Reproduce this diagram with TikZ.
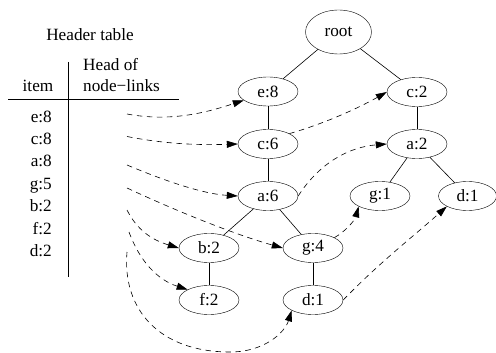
\documentclass[tikz,border=0pt]{standalone}
\usepackage{fontspec}
\setmainfont{Liberation Serif}
\usetikzlibrary{shapes.geometric,arrows.meta}
\begin{document}
\begin{tikzpicture}[x=1pt,y=-1pt,
  every node/.style={font=\fontsize{17.2}{19}\selectfont},
  tnode/.style={draw,ellipse,inner sep=0pt,minimum width=60pt,minimum height=29pt},
  tedge/.style={draw,line width=0.6pt},
  link/.style={draw,line width=0.6pt,dash pattern=on 5.5pt off 4.5pt,-{Triangle[length=11pt,width=7pt]}},
  lbl/.style={anchor=base,inner sep=0pt},
  itm/.style={anchor=base east,inner sep=0pt}]
\useasboundingbox (0,0) rectangle (496,353);
% header table
\node[lbl] (ht) at (90,41) {Header table};
\node[lbl,anchor=base west] (hd1) at (83,71) {Head of};
\node[lbl,anchor=base west] (hd2) at (83,92) {node−links};
\node[lbl] (hit) at (38,92) {item};
\draw[line width=0.6pt] (68,62) -- (68,277);
\draw[line width=0.6pt] (8,99) -- (179,99);
\node[itm] (ie) at (52,122.5) {e:8};
\node[itm] (ic) at (52,144.8) {c:8};
\node[itm] (ia) at (52,167) {a:8};
\node[itm] (ig) at (52,189.5) {g:5};
\node[itm] (ib) at (52,211.8) {b:2};
\node[itm] (if) at (52,234) {f:2};
\node[itm] (id) at (52,256.3) {d:2};
% tree
\node[draw,ellipse,inner sep=0pt,minimum width=66pt,minimum height=44pt] (root) at (338.5,32) {root};
\node[tnode] (e8) at (268,91.5) {e:8};
\node[tnode] (c2) at (417,92) {c:2};
\node[tnode] (c6) at (268,144) {c:6};
\node[tnode] (a2) at (417,144) {a:2};
\node[tnode] (a6) at (268,196) {a:6};
\node[tnode] (g1) at (380,196) {g:1};
\node[tnode,minimum width=58pt] (d1r) at (467.5,196) {d:1};
\node[tnode] (g4) at (313,248) {g:4};
\node[tnode] (b2) at (209,248) {b:2};
\node[tnode] (f2) at (209,300) {f:2};
\node[tnode] (d1) at (313,300) {d:1};
\path[tedge] (root) -- (e8);
\path[tedge] (root) -- (c2);
\path[tedge] (e8) -- (c6);
\path[tedge] (c6) -- (a6);
\path[tedge] (a6) -- (b2);
\path[tedge] (a6) -- (g4);
\path[tedge] (g4) -- (d1);
\path[tedge] (b2) -- (f2);
\path[tedge] (c2) -- (a2);
\path[tedge] (a2) -- (g1);
\path[tedge] (a2) -- (d1r);
% link starts
\coordinate (se) at (127,114);
\coordinate (sc) at (127,136.5);
\coordinate (sa) at (127,165);
\coordinate (sg) at (127,188);
\coordinate (sb) at (127,210);
\coordinate (sf) at (129,232);
\coordinate (sd) at (127,252);
% header links
\path[link] (se) .. controls (170,122) and (205,113) .. (e8.200);
\path[link] (sc) .. controls (170,145) and (205,145) .. (c6.west);
\path[link] (sa) .. controls (170,183) and (205,194) .. (a6.west);
\path[link] (sg) .. controls (185,215) and (240,236) .. (g4.west);
\path[link] (sb) .. controls (137,230) and (152,240) .. (b2.west);
\path[link] (sf) .. controls (140,262) and (158,280) .. (f2.north west);
\path[link] (sd) .. controls (122,310) and (160,352) .. (230,352) .. controls (265,352) and (285,332) .. (d1.south west);
% node links
\path[link] (c6.north east) .. controls (320,125) and (355,110) .. (c2.west);
\path[link] (a6.east) .. controls (320,162) and (350,147) .. (a2.west);
\path[link] (g4.north east) .. controls (345,232) and (355,220) .. (g1.south west);
\path[link] (d1.east) .. controls (380,262) and (415,235) .. (d1r.south west);
\end{tikzpicture}
\end{document}
